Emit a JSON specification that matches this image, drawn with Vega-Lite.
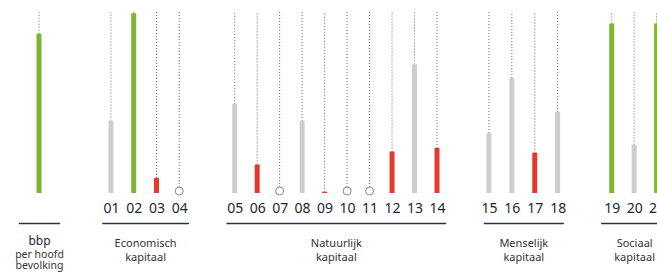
{
  "$schema": "https://vega.github.io/schema/vega-lite/v6.json",
  "padding": {"left": 14, "top": 11, "right": 0, "bottom": 2},
  "autosize": {"type": "pad"},
  "background": "white",
  "config": {
    "view": {"stroke": null},
    "font": "Noto Sans",
    "axisX": {
      "orient": "bottom",
      "offset": 30,
      "ticks": false,
      "tickSize": 0,
      "grid": false,
      "domainColor": "#26343c",
      "domainWidth": 1.5,
      "domainCap": "round",
      "labelFont": "Noto Sans",
      "labelFontSize": 14,
      "labelColor": "#1a2830",
      "labelPadding": -22,
      "labelAngle": 0,
      "titleFont": "Noto Sans",
      "titleFontSize": 11,
      "titleFontWeight": "normal",
      "titleColor": "#333333",
      "titlePadding": 14,
      "titleLineHeight": 14
    }
  },
  "datasets": {
    "indicators": [
      {"code": "bbp", "groep": "bbp", "waarde": 88, "status": "boven"},
      {"code": "01", "groep": "Economisch", "waarde": 40, "status": "midden"},
      {"code": "02", "groep": "Economisch", "waarde": 99.3, "status": "boven"},
      {"code": "03", "groep": "Economisch", "waarde": 8.3, "status": "onder"},
      {"code": "04", "groep": "Economisch", "waarde": 0, "status": "geen"},
      {"code": "05", "groep": "Natuurlijk", "waarde": 49.3, "status": "midden"},
      {"code": "06", "groep": "Natuurlijk", "waarde": 15.8, "status": "onder"},
      {"code": "07", "groep": "Natuurlijk", "waarde": 0, "status": "geen"},
      {"code": "08", "groep": "Natuurlijk", "waarde": 39.8, "status": "midden"},
      {"code": "09", "groep": "Natuurlijk", "waarde": 0.7, "status": "onder"},
      {"code": "10", "groep": "Natuurlijk", "waarde": 0, "status": "geen"},
      {"code": "11", "groep": "Natuurlijk", "waarde": 0, "status": "geen"},
      {"code": "12", "groep": "Natuurlijk", "waarde": 22.9, "status": "onder"},
      {"code": "13", "groep": "Natuurlijk", "waarde": 71, "status": "midden"},
      {"code": "14", "groep": "Natuurlijk", "waarde": 24.9, "status": "onder"},
      {"code": "15", "groep": "Menselijk", "waarde": 33.1, "status": "midden"},
      {"code": "16", "groep": "Menselijk", "waarde": 63.5, "status": "midden"},
      {"code": "17", "groep": "Menselijk", "waarde": 22.3, "status": "onder"},
      {"code": "18", "groep": "Menselijk", "waarde": 44.8, "status": "midden"},
      {"code": "19", "groep": "Sociaal", "waarde": 93.6, "status": "boven"},
      {"code": "20", "groep": "Sociaal", "waarde": 26.7, "status": "midden"},
      {"code": "21", "groep": "Sociaal", "waarde": 93.6, "status": "boven"}
    ]
  },
  "data": {"name": "indicators"},
  "bounds": "flush",
  "spacing": 38.3,
  "resolve": {"scale": {"x": "independent", "y": "shared", "color": "shared"}, "axis": {"x": "independent"}},
  "hconcat": [
    {
      "width": 44.7,
      "height": 181,
      "transform": [{"filter": "datum.groep === 'bbp'"}],
      "encoding": {
        "x": {"field": "code", "type": "nominal", "scale": {"type": "point", "padding": 0.5, "range": [0, 40]},
              "axis": {"labelFontSize": 12, "labelPadding": 12, "labelColor": "#1a2830", "title": ["per hoofd", "bevolking"], "titlePadding": 3, "titleLineHeight": 11.5, "titleFontSize": 10.5}}
      },
      "layer": [
        {"mark": {"type": "rule", "strokeDash": [1, 2], "color": "#666666", "strokeWidth": 1},
         "encoding": {"y": {"field": "waarde", "type": "quantitative", "scale": {"domain": [0, 100]}, "axis": null}, "y2": {"datum": 100}}},
        {"mark": {"type": "bar", "size": 5},
         "encoding": {"y": {"field": "waarde", "type": "quantitative", "scale": {"domain": [0, 100]}, "axis": null},
           "color": {"field": "status", "type": "nominal", "legend": null, "scale": {"domain": ["boven", "midden", "onder", "geen"], "range": ["#7cb82f", "#cdcdcd", "#e5392d", "#ffffff"]}}}}
      ]
    },
    {
      "width": 85.6,
      "height": 181,
      "transform": [{"filter": "datum.groep === 'Economisch'"}],
      "encoding": {"x": {"field": "code", "type": "nominal", "scale": {"type": "point", "padding": 0.38}, "axis": {"title": ["Economisch", "kapitaal"]}}},
      "layer": [
        {"mark": {"type": "rule", "strokeDash": [1, 2], "color": "#666666", "strokeWidth": 1},
         "encoding": {"y": {"field": "waarde", "type": "quantitative", "scale": {"domain": [0, 100]}, "axis": null}, "y2": {"datum": 100}}},
        {"transform": [{"filter": "datum.waarde > 0"}],
         "mark": {"type": "bar", "size": 5},
         "encoding": {"y": {"field": "waarde", "type": "quantitative", "scale": {"domain": [0, 100]}, "axis": null},
           "color": {"field": "status", "type": "nominal", "legend": null, "scale": {"domain": ["boven", "midden", "onder", "geen"], "range": ["#7cb82f", "#cdcdcd", "#e5392d", "#ffffff"]}}}},
        {"transform": [{"filter": "datum.status === 'geen'"}],
         "mark": {"type": "point", "shape": "circle", "filled": true, "fill": "white", "stroke": "#8a8a8a", "strokeWidth": 1, "size": 64, "yOffset": -2, "opacity": 1},
         "encoding": {"y": {"field": "waarde", "type": "quantitative", "scale": {"domain": [0, 100]}, "axis": null}}}
      ]
    },
    {
      "width": 218.5,
      "height": 181,
      "transform": [{"filter": "datum.groep === 'Natuurlijk'"}],
      "encoding": {"x": {"field": "code", "type": "nominal", "scale": {"type": "point", "padding": 0.36}, "axis": {"title": ["Natuurlijk", "kapitaal"]}}},
      "layer": [
        {"mark": {"type": "rule", "strokeDash": [1, 2], "color": "#666666", "strokeWidth": 1},
         "encoding": {"y": {"field": "waarde", "type": "quantitative", "scale": {"domain": [0, 100]}, "axis": null}, "y2": {"datum": 100}}},
        {"transform": [{"filter": "datum.waarde > 0"}],
         "mark": {"type": "bar", "size": 5},
         "encoding": {"y": {"field": "waarde", "type": "quantitative", "scale": {"domain": [0, 100]}, "axis": null},
           "color": {"field": "status", "type": "nominal", "legend": null, "scale": {"domain": ["boven", "midden", "onder", "geen"], "range": ["#7cb82f", "#cdcdcd", "#e5392d", "#ffffff"]}}}},
        {"transform": [{"filter": "datum.status === 'geen'"}],
         "mark": {"type": "point", "shape": "circle", "filled": true, "fill": "white", "stroke": "#8a8a8a", "strokeWidth": 1, "size": 64, "yOffset": -2, "opacity": 1},
         "encoding": {"y": {"field": "waarde", "type": "quantitative", "scale": {"domain": [0, 100]}, "axis": null}}}
      ]
    },
    {
      "width": 78.8,
      "height": 181,
      "transform": [{"filter": "datum.groep === 'Menselijk'"}],
      "encoding": {"x": {"field": "code", "type": "nominal", "scale": {"type": "point", "padding": 0.22}, "axis": {"title": ["Menselijk", "kapitaal"]}}},
      "layer": [
        {"mark": {"type": "rule", "strokeDash": [1, 2], "color": "#666666", "strokeWidth": 1},
         "encoding": {"y": {"field": "waarde", "type": "quantitative", "scale": {"domain": [0, 100]}, "axis": null}, "y2": {"datum": 100}}},
        {"mark": {"type": "bar", "size": 5},
         "encoding": {"y": {"field": "waarde", "type": "quantitative", "scale": {"domain": [0, 100]}, "axis": null},
           "color": {"field": "status", "type": "nominal", "legend": null, "scale": {"domain": ["boven", "midden", "onder", "geen"], "range": ["#7cb82f", "#cdcdcd", "#e5392d", "#ffffff"]}}}}
      ]
    },
    {
      "width": 65.9,
      "height": 181,
      "transform": [{"filter": "datum.groep === 'Sociaal'"}],
      "encoding": {"x": {"field": "code", "type": "nominal", "scale": {"type": "point", "padding": 0.467}, "axis": {"title": ["Sociaal", "kapitaal"]}}},
      "layer": [
        {"mark": {"type": "rule", "strokeDash": [1, 2], "color": "#666666", "strokeWidth": 1},
         "encoding": {"y": {"field": "waarde", "type": "quantitative", "scale": {"domain": [0, 100]}, "axis": null}, "y2": {"datum": 100}}},
        {"mark": {"type": "bar", "size": 5},
         "encoding": {"y": {"field": "waarde", "type": "quantitative", "scale": {"domain": [0, 100]}, "axis": null},
           "color": {"field": "status", "type": "nominal", "legend": null, "scale": {"domain": ["boven", "midden", "onder", "geen"], "range": ["#7cb82f", "#cdcdcd", "#e5392d", "#ffffff"]}}}}
      ]
    }
  ]
}
